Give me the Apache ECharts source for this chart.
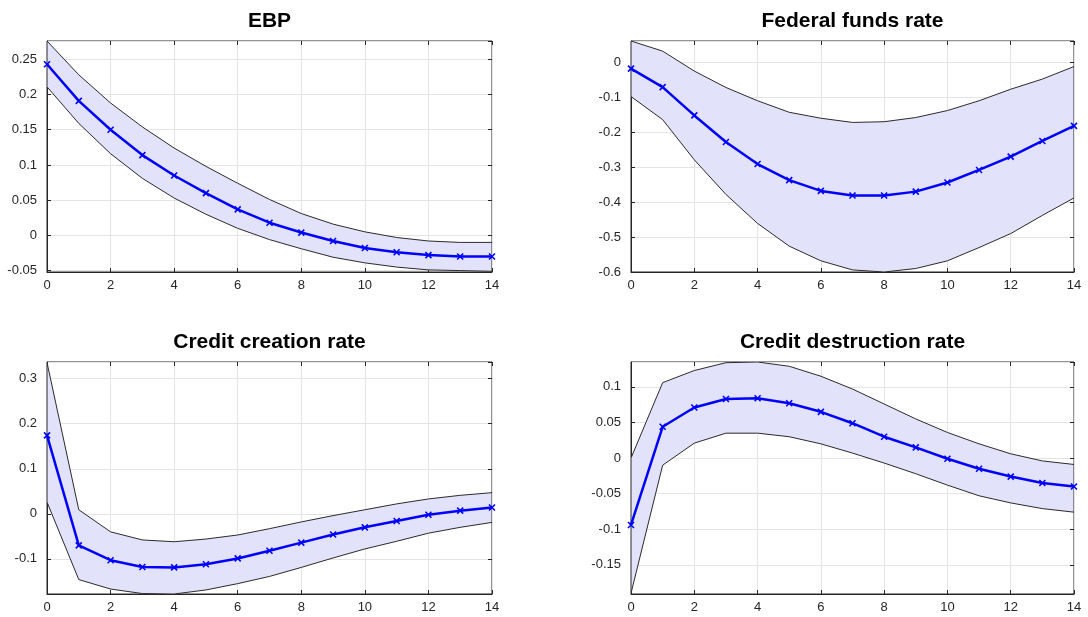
<!DOCTYPE html>
<html style="height: 100%">
<head>
    <meta charset="utf-8">
    <title>Impulse responses</title>
    <script type="text/javascript" src="https://cdn.jsdelivr.net/npm/echarts@6/dist/echarts.min.js"></script>
</head>
<body style="height: 100%; margin: 0; background: #fff">
    <div id="container" style="width: 1088px; height: 617px"></div>
    <script type="text/javascript">
        // horizons 0..14
        var horizon = [0, 1, 2, 3, 4, 5, 6, 7, 8, 9, 10, 11, 12, 13, 14];
        var titles  = ['EBP', 'Federal funds rate', 'Credit creation rate', 'Credit destruction rate'];

        // EBP
        var ebpMid   = [0.243, 0.191, 0.150, 0.114, 0.085, 0.060, 0.037, 0.018, 0.004, -0.008, -0.018, -0.024, -0.028, -0.030, -0.030];
        var ebpHigh  = [0.276, 0.228, 0.188, 0.154, 0.124, 0.098, 0.074, 0.051, 0.031, 0.016, 0.005, -0.003, -0.008, -0.010, -0.010];
        var ebpLow   = [0.211, 0.159, 0.116, 0.081, 0.053, 0.030, 0.010, -0.006, -0.019, -0.031, -0.039, -0.045, -0.049, -0.050, -0.051];
        // Federal funds rate
        var ffrMid   = [-0.018, -0.071, -0.152, -0.228, -0.291, -0.337, -0.368, -0.381, -0.381, -0.370, -0.344, -0.308, -0.270, -0.225, -0.182];
        var ffrHigh  = [0.061, 0.032, -0.025, -0.072, -0.110, -0.143, -0.160, -0.172, -0.170, -0.158, -0.138, -0.110, -0.077, -0.048, -0.012];
        var ffrLow   = [-0.098, -0.164, -0.279, -0.378, -0.461, -0.526, -0.568, -0.594, -0.600, -0.590, -0.568, -0.530, -0.490, -0.438, -0.388];
        // Credit creation rate
        var ccrMid   = [0.174, -0.070, -0.103, -0.118, -0.119, -0.112, -0.099, -0.082, -0.064, -0.046, -0.030, -0.016, -0.002, 0.007, 0.014];
        var ccrHigh  = [0.336, 0.009, -0.040, -0.058, -0.062, -0.056, -0.047, -0.033, -0.018, -0.004, 0.009, 0.022, 0.033, 0.041, 0.047];
        var ccrLow   = [0.026, -0.146, -0.167, -0.177, -0.178, -0.169, -0.155, -0.139, -0.119, -0.098, -0.078, -0.061, -0.043, -0.030, -0.019];
        // Credit destruction rate
        var cdrMid   = [-0.094, 0.044, 0.071, 0.083, 0.084, 0.077, 0.065, 0.049, 0.030, 0.015, -0.001, -0.015, -0.026, -0.035, -0.040];
        var cdrHigh  = [0.000, 0.106, 0.123, 0.134, 0.135, 0.129, 0.115, 0.097, 0.076, 0.055, 0.036, 0.020, 0.006, -0.004, -0.009];
        var cdrLow   = [-0.190, -0.010, 0.021, 0.035, 0.035, 0.030, 0.020, 0.007, -0.007, -0.022, -0.038, -0.053, -0.063, -0.071, -0.076];

        var mids  = [ebpMid, ffrMid, ccrMid, cdrMid];
        var highs = [ebpHigh, ffrHigh, ccrHigh, cdrHigh];
        var lows  = [ebpLow, ffrLow, ccrLow, cdrLow];
        var yMin  = [-0.052, -0.6, -0.178, -0.191];
        var yMax  = [0.276, 0.061, 0.337, 0.135];
        var showMin = [false, true, false, false];

        var grids = [
            {left: 47,  top: 41,  width: 445, height: 231},
            {left: 631, top: 41,  width: 443, height: 231},
            {left: 47,  top: 362, width: 445, height: 232},
            {left: 631, top: 362, width: 443, height: 232}
        ];
        var titleTop = [11, 11, 332, 332];

        var font   = '"Liberation Sans", Arial, Helvetica, sans-serif';
        var axisCl = '#262626';
        var xMark  = 'path://M0,0L10,10M10,0L0,10';

        function pairs(ys) {
            return horizon.map(function (h, i) { return [h, ys[i]]; });
        }

        // one polygon for the whole confidence band, drawn on the first item
        function bandRenderer(params, api) {
            if (params.dataIndex !== 0) return null;
            var n = horizon.length, top = [], bot = [];
            for (var i = 0; i < n; i++) {
                top.push(api.coord([api.value(0, i), api.value(2, i)]));
                bot.push(api.coord([api.value(0, i), api.value(1, i)]));
            }
            return {
                type: 'polygon',
                shape: {points: top.concat(bot.reverse())},
                style: {fill: '#e2e2fb', stroke: '#2a2a2a', lineWidth: 1}
            };
        }

        var option = {
            animation: false,
            backgroundColor: '#fff',
            textStyle: {fontFamily: font},
            title: [], grid: [], xAxis: [], yAxis: [], series: []
        };

        for (var p = 0; p < 4; p++) {
            var g = grids[p];
            option.title.push({
                text: titles[p],
                left: g.left + g.width / 2,
                top: titleTop[p],
                textAlign: 'center',
                padding: 0,
                textStyle: {fontFamily: font, fontSize: 21, fontWeight: 'bold', color: '#000'}
            });
            option.grid.push({
                left: g.left, top: g.top, width: g.width, height: g.height,
                show: true, borderColor: axisCl, borderWidth: 1, backgroundColor: '#fff'
            });
            // bottom / left axes with labels
            option.xAxis.push({
                type: 'value', gridIndex: p, min: 0, max: 14, interval: 2,
                axisLine: {show: true, onZero: false, lineStyle: {color: axisCl}},
                axisTick: {show: true, inside: true, length: 4, lineStyle: {color: axisCl}},
                axisLabel: {color: axisCl, fontSize: 13, margin: 7, fontFamily: font},
                splitLine: {show: true, lineStyle: {color: '#e4e4e4'}}
            });
            option.yAxis.push({
                type: 'value', gridIndex: p, min: yMin[p], max: yMax[p],
                axisLine: {show: true, onZero: false, lineStyle: {color: axisCl}},
                axisTick: {show: true, inside: true, length: 4, lineStyle: {color: axisCl}},
                axisLabel: {color: axisCl, fontSize: 13, margin: 10, fontFamily: font,
                            showMinLabel: showMin[p], showMaxLabel: false},
                splitLine: {show: true, lineStyle: {color: '#e4e4e4'}}
            });
            // top / right mirror axes for box ticks
            option.xAxis.push({
                type: 'value', gridIndex: p, position: 'top', min: 0, max: 14, interval: 2,
                axisLine: {show: false, onZero: false},
                axisTick: {show: true, inside: true, length: 4, lineStyle: {color: axisCl}},
                axisLabel: {show: false}, splitLine: {show: false}
            });
            option.yAxis.push({
                type: 'value', gridIndex: p, position: 'right', min: yMin[p], max: yMax[p],
                axisLine: {show: false, onZero: false},
                axisTick: {show: true, inside: true, length: 4, lineStyle: {color: axisCl}},
                axisLabel: {show: false}, splitLine: {show: false}
            });

            var bandData = horizon.map(function (h, i) { return [h, lows[p][i], highs[p][i]]; });

            option.series.push({
                type: 'custom', xAxisIndex: 2 * p, yAxisIndex: 2 * p,
                renderItem: bandRenderer,
                encode: {x: 0, y: [1, 2]},
                data: bandData, clip: true, z: 2
            });
            option.series.push({
                type: 'line', xAxisIndex: 2 * p, yAxisIndex: 2 * p,
                data: pairs(mids[p]),
                symbol: xMark, symbolSize: 6, showAllSymbol: true,
                lineStyle: {color: '#0000ff', width: 2.5},
                itemStyle: {color: '#0000ff', borderColor: '#0000ff', borderWidth: 1.6},
                z: 4
            });
        }

        var myChart = echarts.init(document.getElementById('container'));
        myChart.setOption(option);
    </script>
</body>
</html>
